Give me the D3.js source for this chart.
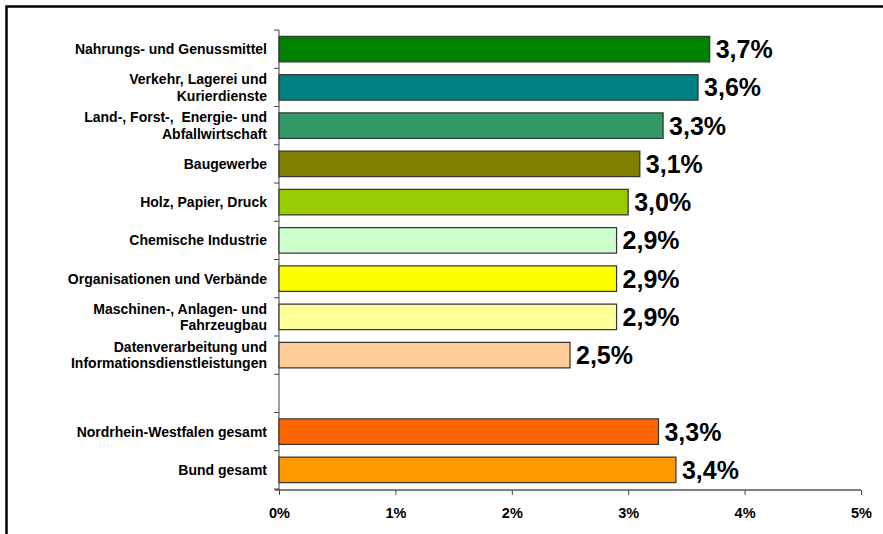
<!DOCTYPE html>
<html>
<head>
<meta charset="utf-8">
<script src="https://cdn.jsdelivr.net/npm/d3@7"></script>
<style>
  html, body { margin: 0; padding: 0; background: #fff; }
  svg { display: block; font-family: Arial, "Liberation Sans", sans-serif; }
  text, tspan { white-space: pre; }
</style>
</head>
<body>
<svg id="chart" width="883" height="534"></svg>
<script>
// ---- data ----
const categories = [
  "Nahrungs- und Genussmittel",
  "Verkehr, Lagerei und\nKurierdienste",
  "Land-, Forst-,  Energie- und\nAbfallwirtschaft",
  "Baugewerbe",
  "Holz, Papier, Druck",
  "Chemische Industrie",
  "Organisationen und Verbände",
  "Maschinen-, Anlagen- und\nFahrzeugbau",
  "Datenverarbeitung und\nInformationsdienstleistungen",
  "",
  "Nordrhein-Westfalen gesamt",
  "Bund gesamt"
];
const values = [3.7, 3.6, 3.3, 3.1, 3.0, 2.9, 2.9, 2.9, 2.5, null, 3.26, 3.41];
const colors = ["#008000", "#008080", "#339966", "#808000", "#99CC00", "#CCFFCC",
                "#FFFF00", "#FFFF99", "#FFCC99", null, "#FF6600", "#FF9900"];
const xTicks = [0, 1, 2, 3, 4, 5];

// ---- layout ----
const svg = d3.select("#chart");
const x0 = 279, x1 = 861, yTop = 30, yBottom = 489;

const x = d3.scaleLinear().domain([0, 5]).range([x0, x1]);
const y = d3.scaleBand().domain(d3.range(categories.length)).range([yTop, yBottom]).paddingInner(0.333).paddingOuter(0.1665);

// frame
svg.append("rect").attr("x", 6.5).attr("y", 6.5).attr("width", 1000).attr("height", 1000)
  .attr("fill", "none").attr("stroke", "#000").attr("stroke-width", 2.5);

// x axis
const xAxis = d3.axisBottom(x).tickValues(xTicks).tickSize(5).tickSizeOuter(0).tickFormat(d => d + "%");
const gx = svg.append("g").attr("transform", `translate(0,${yBottom + 1})`).call(xAxis);
gx.select(".domain").attr("stroke", "#808080").attr("stroke-width", 2).attr("d", `M${x0 - 4},0H${x1}`);
gx.selectAll(".tick line").attr("stroke", "#404040").attr("stroke-width", 1);
gx.selectAll(".tick text").attr("y", 18).attr("dy", "0.71em")
  .attr("font-size", "14.5px").attr("font-weight", "bold").attr("fill", "#000")
  .attr("font-family", "Arial, 'Liberation Sans', sans-serif");

// y axis ticks at band boundaries
const boundaries = d3.range(categories.length + 1).map(i => yTop + i * (yBottom - yTop) / categories.length);
svg.append("g").selectAll("line").data(boundaries).join("line")
  .attr("x1", x0 - 5).attr("x2", x0).attr("y1", d => d).attr("y2", d => d)
  .attr("stroke", "#404040").attr("stroke-width", 1);
svg.append("line").attr("x1", x0).attr("x2", x0).attr("y1", yTop).attr("y2", yBottom + 1)
  .attr("stroke", "#404040").attr("stroke-width", 1);

// bars
const idx = d3.range(categories.length).filter(i => values[i] !== null);
svg.append("g").selectAll("rect").data(idx).join("rect")
  .attr("x", x(0))
  .attr("y", i => y(i))
  .attr("width", i => x(values[i]) - x(0))
  .attr("height", y.bandwidth())
  .attr("fill", i => colors[i])
  .attr("stroke", "#333")
  .attr("stroke-width", 1.2);

// value labels
const fmt = v => d3.format(".1f")(v).replace(".", ",") + "%";
svg.append("g").selectAll("text").data(idx).join("text")
  .attr("x", i => x(values[i]) + 6)
  .attr("y", i => y(i) + y.bandwidth() / 2 + 9)
  .attr("font-size", "25px").attr("font-weight", "bold").attr("fill", "#000")
  .text(i => fmt(values[i]));

// category labels
const lab = svg.append("g").selectAll("text").data(d3.range(categories.length)).join("text")
  .attr("text-anchor", "end")
  .attr("font-size", "14px").attr("font-weight", "bold").attr("fill", "#000");
lab.each(function(i) {
  const lines = categories[i].split("\n");
  const cy = y(i) + y.bandwidth() / 2;
  const lh = 16.5;
  const first = cy - (lines.length - 1) * lh / 2 + 5;
  d3.select(this).selectAll("tspan").data(lines).join("tspan")
    .attr("x", 267)
    .attr("y", (d, k) => first + k * lh)
    .text(d => d);
});
</script>
</body>
</html>
